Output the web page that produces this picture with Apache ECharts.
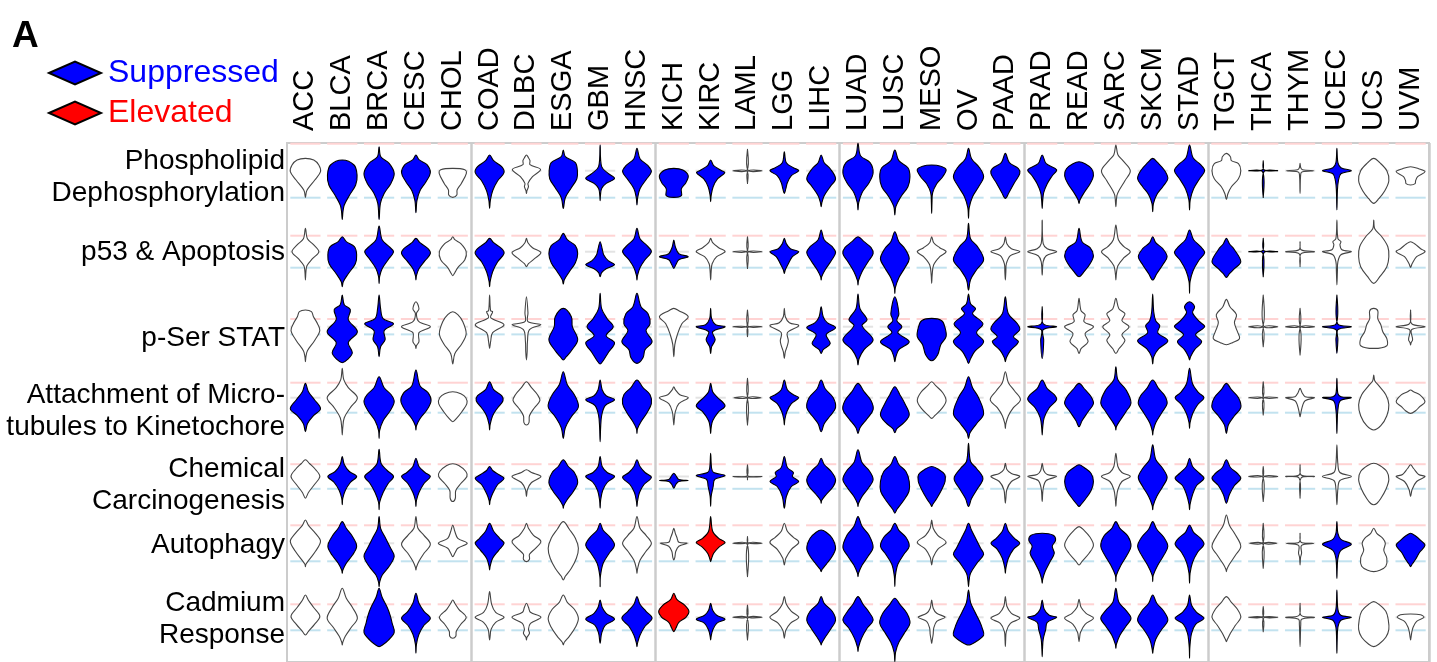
<!DOCTYPE html>
<html>
<head>
<meta charset="utf-8">
<script src="https://cdn.jsdelivr.net/npm/echarts@6/dist/echarts.min.js"></script>
<style>
  html, body { margin: 0; padding: 0; background: #fff; }
  #chart { width: 1437px; height: 662px; }
</style>
</head>
<body>
<div id="chart"></div>
<script>
const cancers = ['ACC', 'BLCA', 'BRCA', 'CESC', 'CHOL', 'COAD', 'DLBC', 'ESGA', 'GBM', 'HNSC',
  'KICH', 'KIRC', 'LAML', 'LGG', 'LIHC', 'LUAD', 'LUSC', 'MESO', 'OV', 'PAAD',
  'PRAD', 'READ', 'SARC', 'SKCM', 'STAD', 'TGCT', 'THCA', 'THYM', 'UCEC', 'UCS', 'UVM']
const groupSizes = [5, 5, 5, 5, 5, 6]

const pathways = [
  'Phospholipid\nDephosphorylation',
  'p53 & Apoptosis',
  'p-Ser STAT',
  'Attachment of Micro-\ntubules to Kinetochore',
  'Chemical\nCarcinogenesis',
  'Autophagy',
  'Cadmium\nResponse'
]
// significance threshold of each pathway score (dashed pink / blue lines at +/- value)
const thresholds = [2.7, 1.6, 0.77, 1.5, 1.23, 1.8, 1.3]
// b = suppressed, r = elevated, w = not significant
const calls = [
  'wbbbwbwbbbbbwbbbbbbbbbwbbwbwbww',
  'wbbbwbwbbbbwwbbbbwbwwbwbbbbwwww',
  'wbbwwwwbbbwbwwbbbbbbbwwbbwwwbww',
  'bwbbwbwbbbwbwbbbbwbwbbbbbbwwbww',
  'wbbbwbwbbbbbwbbbbbbwwbwbbbwwwww',
  'wbbwwbwwbwwrwwbbbwbbbwbbbwwwbwb',
  'wwbbwwwwbbrbwwbbbwbwbwbbbwwwbww'
]

// each violin: [top, bottom, y1, density1, y2, density2, ...] (score units, top to bottom)
const phospholipid = [
  [1.23, -2.67, 1.07, 0.83, 0.57, 1.33, -0.1, 1.5, -0.93, 0.93, -1.77, 0.27, -2.1, 0.1],
  [1.07, -4.87, 0.57, 1.17, -0.43, 1.47, -1.43, 1.33, -2.43, 0.73, -3.43, 0.2, -4.1, 0.07],
  [2.4, -4.87, 1.4, 0.17, 0.73, 1.0, -0.27, 1.5, -1.27, 1.17, -2.27, 0.5, -3.27, 0.13],
  [1.57, -4.2, 1.1, 0.3, 0.6, 1.1, -0.2, 1.43, -1.1, 1.0, -2.0, 0.4, -3.0, 0.1],
  [0.23, -2.67, 0.1, 1.2, -0.27, 1.35, -1.27, 0.85, -1.93, 0.43, -2.43, 0.4],
  [1.57, -3.77, 1.0, 0.4, 0.4, 1.2, -0.2, 1.43, -1.0, 0.8, -2.0, 0.3, -3.0, 0.07],
  [1.57, -2.27, 1.3, 0.2, 1.0, 0.35, 0.6, 0.35, 0.13, 1.4, -0.6, 0.6, -1.27, 0.15, -1.6, 0.2, -2.0, 0.05],
  [2.07, -3.77, 1.4, 0.2, 0.8, 1.2, 0, 1.4, -0.8, 1.35, -1.7, 0.8, -2.7, 0.2],
  [2.57, -3.0, 0.4, 0.15, -0.27, 0.8, -0.77, 1.43, -1.27, 0.6, -1.77, 0.15, -2.5, 0.03],
  [2.23, -3.43, 1.2, 0.3, 0.5, 1.1, -0.1, 1.43, -0.9, 0.9, -1.8, 0.3, -2.7, 0.07],
  [0.23, -2.67, 0.07, 0.9, -0.5, 1.43, -1.2, 1.2, -1.8, 0.75, -2.5, 0.75],
  [1.07, -3.1, 0.5, 0.3, 0, 1.1, -0.2, 1.4, -0.8, 0.7, -1.6, 0.25, -2.5, 0.05],
  [2.13, -1.27, 0.05, 0.05, 0, 1.43, -0.05, 0.05],
  [1.9, -2.27, 0.8, 0.2, 0.3, 0.9, 0, 1.43, -0.5, 0.7, -1.2, 0.3, -1.8, 0.15],
  [1.57, -3.6, 0.8, 0.3, 0.2, 0.9, -0.8, 1.43, -1.6, 0.9, -2.5, 0.3, -3.2, 0.07],
  [2.73, -3.93, 1.5, 0.25, 0.8, 1.2, -0.2, 1.5, -1.2, 1.1, -2.2, 0.4, -3.2, 0.07],
  [2.07, -4.43, 1.0, 0.4, 0.3, 1.3, -0.6, 1.5, -1.6, 1.3, -2.6, 0.6, -3.6, 0.1],
  [0.57, -4.27, 0.45, 0.9, 0.1, 1.43, -0.6, 1.1, -1.3, 0.5, -2.2, 0.1, -3.2, 0.03],
  [2.23, -4.77, 1.2, 0.3, 0.3, 1.1, -0.6, 1.5, -1.6, 1.0, -2.6, 0.4, -3.7, 0.07],
  [1.73, -2.77, 0.8, 0.4, 0.2, 1.3, -0.3, 1.43, -1.2, 0.9, -2.2, 0.35],
  [1.57, -3.77, 0.7, 0.4, 0.1, 1.43, -0.5, 1.0, -1.3, 0.5, -2.2, 0.15, -3.0, 0.05],
  [0.9, -3.27, 0.7, 0.6, 0.2, 1.25, -0.5, 1.43, -1.3, 1.1, -2.2, 0.5, -2.9, 0.1],
  [2.57, -3.6, 1.6, 0.2, 1.0, 0.7, 0, 1.43, -1.0, 0.9, -2.0, 0.3, -2.5, 0.1],
  [1.23, -4.1, 0.8, 0.5, 0, 1.2, -0.8, 1.5, -1.6, 1.0, -2.4, 0.4, -3.3, 0.07],
  [2.57, -3.93, 1.3, 0.35, 0.6, 1.1, 0, 1.5, -0.8, 1.0, -1.8, 0.4, -2.9, 0.07],
  [1.73, -2.87, 1.4, 0.4, 1.0, 0.5, 0.7, 1.2, 0, 1.43, -0.8, 1.2, -1.6, 0.5, -2.3, 0.15],
  [1.0, -2.67, 0.1, 0.07, 0, 1.43, -0.1, 0.07],
  [0.73, -2.27, 0.3, 0.07, 0.1, 0.25, 0, 1.35, -0.1, 0.25, -0.3, 0.07],
  [2.23, -3.93, 0.8, 0.1, 0.3, 0.4, 0, 1.43, -0.3, 0.4, -1.0, 0.15, -2.0, 0.05],
  [1.23, -3.27, 0.8, 0.6, 0, 1.3, -1.0, 1.5, -2.0, 1.1, -2.8, 0.5],
  [0.4, -1.43, 0.2, 0.8, -0.1, 1.43, -0.6, 0.7, -1.0, 0.5, -1.3, 0.45]
]

const p53Apoptosis = [
  [2.33, -2.83, 1.3, 0.2, 0.7, 0.8, 0, 1.33, -0.7, 0.7, -1.4, 0.15, -2.0, 0.05],
  [1.5, -3.5, 1.0, 0.4, 0.5, 1.2, -0.3, 1.43, -1.2, 1.3, -2.2, 0.6, -3.0, 0.1],
  [2.57, -3.17, 1.2, 0.3, 0.5, 1.0, 0, 1.43, -0.8, 0.9, -1.7, 0.3, -2.5, 0.05],
  [1.33, -2.83, 0.9, 0.4, 0.3, 1.2, -0.2, 1.43, -0.9, 0.9, -1.7, 0.3, -2.4, 0.05],
  [1.5, -2.4, 1.2, 0.2, 0.8, 0.8, 0, 1.33, -0.8, 1.2, -1.6, 0.5, -2.1, 0.2],
  [1.33, -3.5, 0.9, 0.4, 0.3, 1.2, -0.2, 1.43, -1.0, 0.8, -2.0, 0.3, -3.0, 0.05],
  [1.33, -1.5, 0.9, 0.15, 0.4, 0.6, -0.1, 1.43, -0.7, 0.8, -1.2, 0.2],
  [1.83, -3.23, 1.2, 0.4, 0.6, 1.2, -0.2, 1.43, -1.1, 1.2, -2.0, 0.6, -2.8, 0.1],
  [1.0, -2.5, 0.3, 0.2, -0.3, 0.35, -0.9, 0.8, -1.3, 1.43, -1.7, 0.6, -2.1, 0.15],
  [2.33, -2.83, 1.3, 0.3, 0.6, 1.0, 0, 1.43, -0.8, 0.8, -1.6, 0.3, -2.4, 0.05],
  [1.17, -1.67, 0.5, 0.15, -0.2, 0.5, -0.5, 1.43, -0.8, 0.5, -1.3, 0.2],
  [1.33, -2.83, 0.9, 0.2, 0.4, 0.8, 0, 1.43, -0.5, 0.6, -1.2, 0.15, -2.0, 0.05],
  [1.5, -1.67, 0.05, 0.05, 0, 1.43, -0.05, 0.05],
  [1.33, -2.17, 0.8, 0.2, 0.3, 0.6, 0, 1.43, -0.5, 0.8, -1.2, 0.4, -1.8, 0.1],
  [2.17, -2.83, 1.2, 0.3, 0.5, 1.1, -0.1, 1.43, -0.9, 1.0, -1.8, 0.4, -2.5, 0.05],
  [1.5, -3.33, 1.0, 0.6, 0.4, 1.3, -0.2, 1.5, -1.0, 1.0, -2.0, 0.4, -2.9, 0.05],
  [2.0, -4.17, 1.0, 0.4, 0.3, 1.0, -0.7, 1.43, -1.6, 1.0, -2.6, 0.4, -3.6, 0.05],
  [1.5, -3.17, 0.9, 0.2, 0.4, 0.8, 0, 1.43, -0.5, 0.8, -1.3, 0.2, -2.3, 0.05],
  [2.83, -3.83, 1.3, 0.2, 0.5, 0.9, -0.8, 1.5, -1.8, 0.8, -2.8, 0.2],
  [1.5, -2.83, 0.8, 0.15, 0.3, 0.6, 0, 1.43, -0.4, 0.5, -1.2, 0.1, -2.0, 0.05],
  [3.17, -2.33, 0.8, 0.1, 0.3, 0.5, 0, 1.43, -0.4, 0.4, -1.0, 0.1],
  [2.33, -2.5, 1.0, 0.3, 0.4, 1.1, -0.4, 1.43, -1.2, 1.1, -2.0, 0.5],
  [2.67, -2.83, 1.2, 0.25, 0.5, 0.8, 0, 1.43, -0.6, 0.8, -1.4, 0.2, -2.2, 0.05],
  [1.5, -2.83, 0.9, 0.3, 0.3, 1.0, -0.5, 1.43, -1.3, 1.0, -2.2, 0.4],
  [2.17, -4.17, 1.2, 0.4, 0.5, 1.1, -0.1, 1.5, -0.9, 0.9, -1.9, 0.35, -3.0, 0.05],
  [1.33, -2.57, 0.8, 0.3, 0.2, 0.8, -1.0, 1.43, -1.7, 0.8, -2.2, 0.3],
  [1.33, -2.5, 0.1, 0.07, 0, 1.43, -0.1, 0.07],
  [1.0, -1.5, 0.2, 0.1, 0, 1.43, -0.2, 0.1],
  [3.17, -3.33, 1.3, 0.1, 1.0, 0.4, 0.7, 0.3, 0.2, 0.5, 0, 1.43, -0.3, 0.4, -1.0, 0.1, -2.0, 0.05],
  [3.17, -3.17, 2.3, 0.1, 1.5, 0.8, 0.5, 1.4, -0.5, 1.5, -1.5, 1.3, -2.5, 0.6],
  [1.0, -1.57, 0.8, 0.4, 0.3, 1.0, 0, 1.43, -0.5, 0.6, -1.2, 0.15]
]

const pSerStat = [
  [1.67, -3.5, 1.5, 0.6, 1.0, 0.8, 0.3, 1.2, -0.4, 1.43, -1.4, 0.9, -2.4, 0.2, -3.0, 0.05],
  [3.17, -3.6, 2.2, 0.2, 1.7, 0.8, 0.7, 0.6, -0.5, 1.5, -1.6, 0.6, -2.6, 1.0, -3.3, 0.5],
  [3.17, -3.0, 1.8, 0.15, 0.8, 0.4, 0.3, 1.43, -0.4, 0.5, -1.3, 0.6, -2.0, 0.15],
  [2.5, -2.17, 1.8, 0.3, 1.3, 0.05, 0.5, 0.3, 0, 1.43, -0.6, 0.3, -1.5, 0.3, -1.9, 0.05],
  [1.5, -3.73, 1.2, 0.5, 0.5, 1.0, -0.7, 1.33, -1.7, 0.9, -2.7, 0.2],
  [3.17, -2.17, 1.6, 0.1, 1.5, 0.3, 0.9, 0.1, 0.2, 1.43, -0.6, 0.3, -1.5, 0.1],
  [3.0, -3.33, 1.4, 0.15, 0.5, 0.15, 0.2, 1.43, -0.3, 0.3, -1.5, 0.1, -2.5, 0.07],
  [1.83, -3.33, 1.0, 0.8, 0, 0.9, -1.3, 1.43, -2.4, 0.8, -3.0, 0.3],
  [3.33, -3.73, 1.8, 0.15, 0.8, 0.7, 0, 1.3, -0.9, 0.6, -1.6, 1.43, -2.6, 0.8, -3.4, 0.3],
  [3.33, -3.67, 2.0, 0.4, 1.3, 1.1, 0.3, 1.3, -0.4, 0.9, -1.5, 1.5, -2.3, 0.8, -3.1, 0.6],
  [1.83, -3.0, 1.6, 0.5, 1.0, 1.43, 0.3, 0.8, -0.8, 0.35, -1.8, 0.1],
  [1.83, -2.67, 0.8, 0.1, 0.2, 0.5, 0, 1.43, -0.5, 0.2, -1.3, 0.45, -2.0, 0.1],
  [1.67, -1.0, 0.05, 0.05, 0, 1.43, -0.05, 0.05],
  [1.83, -3.17, 1.0, 0.1, 0.4, 0.5, 0.1, 1.43, -0.6, 0.3, -1.4, 0.4, -1.9, 0.3, -2.5, 0.1],
  [2.0, -2.67, 1.0, 0.2, 0.4, 0.6, -0.1, 1.43, -0.8, 0.5, -1.7, 0.9, -2.3, 0.2],
  [3.27, -3.83, 1.8, 0.2, 0.7, 0.9, 0.1, 0.4, -1.3, 1.5, -2.3, 0.6, -3.2, 0.1],
  [3.0, -3.5, 1.3, 0.4, 0.6, 0.2, 0, 0.7, -0.6, 0.3, -1.5, 1.43, -2.3, 0.4, -3.0, 0.1],
  [0.83, -3.4, 0.6, 1.0, 0, 1.3, -1.0, 1.43, -1.8, 0.9, -2.8, 0.6],
  [3.27, -3.67, 2.3, 0.2, 1.8, 0.7, 1.3, 0.4, 0.3, 1.43, -0.6, 0.8, -1.5, 1.5, -2.5, 0.6, -3.2, 0.2],
  [3.0, -3.5, 1.3, 0.3, 0.3, 1.2, -0.3, 1.43, -1.0, 0.8, -1.5, 1.3, -2.4, 0.5, -3.1, 0.1],
  [2.0, -3.17, 0.3, 0.1, 0, 1.43, -0.3, 0.1, -1.4, 0.15],
  [2.83, -2.67, 1.6, 0.2, 1.2, 0.6, 0.5, 0.5, 0, 1.43, -0.7, 0.6, -1.5, 0.9, -2.2, 0.2],
  [2.83, -2.67, 1.8, 0.3, 1.3, 0.9, 0.6, 0.6, 0, 1.3, -0.8, 0.6, -1.4, 0.9, -2.2, 0.3],
  [3.27, -3.73, 1.5, 0.1, 0.6, 0.3, 0.1, 0.7, -0.6, 0.5, -1.4, 1.5, -2.2, 0.6, -3.0, 0.1],
  [2.5, -3.33, 2.0, 0.5, 1.4, 0.3, 0.5, 1.0, 0, 1.5, -0.8, 0.6, -1.5, 1.2, -2.3, 0.5, -3.0, 0.1],
  [2.73, -1.8, 2.0, 0.35, 1.2, 1.0, 0.4, 0.8, -0.5, 1.1, -1.2, 1.3, -1.6, 0.6],
  [3.17, -2.0, 0.05, 0.05, 0, 1.43, -0.05, 0.05],
  [1.83, -2.83, 0.05, 0.05, 0, 1.43, -0.05, 0.05],
  [3.17, -2.67, 0.3, 0.07, 0, 1.43, -0.3, 0.1, -1.3, 0.1],
  [1.83, -2.17, 1.6, 0.4, 0.8, 0.4, 0.2, 0.7, -0.5, 0.9, -1.2, 1.3, -1.9, 1.3],
  [1.67, -1.83, 0.3, 0.1, 0, 1.43, -0.3, 0.1, -1.3, 0.2, -1.6, 0.05]
]

const kinetochore = [
  [1.43, -3.4, 0.6, 0.3, -0.2, 0.9, -1.1, 1.5, -1.8, 0.8, -2.6, 0.2],
  [2.93, -3.73, 1.8, 0.15, 1.0, 0.6, 0, 1.5, -1.0, 0.8, -2.0, 0.2, -3.0, 0.05],
  [2.1, -4.07, 1.0, 0.5, 0.3, 1.2, -0.4, 1.5, -1.3, 1.1, -2.3, 0.4, -3.3, 0.05],
  [2.77, -3.23, 1.2, 0.4, 0.5, 1.2, -0.3, 1.5, -1.2, 1.1, -2.1, 0.4, -2.8, 0.05],
  [0.6, -2.4, 0.4, 0.8, 0, 1.3, -0.6, 1.4, -1.4, 0.9, -2.1, 0.35],
  [1.6, -3.23, 0.8, 0.4, 0.2, 1.2, -0.3, 1.33, -1.0, 0.8, -1.8, 0.3, -2.7, 0.05],
  [1.6, -2.73, 1.0, 0.5, 0.3, 1.1, -0.3, 1.33, -1.0, 0.8, -1.8, 0.3, -2.5, 0.25],
  [2.6, -4.07, 1.3, 0.4, 0.3, 1.1, -0.9, 1.5, -1.9, 0.8, -3.0, 0.2],
  [1.77, -4.4, 0.8, 0.2, 0.2, 0.6, -0.2, 1.43, -0.8, 0.5, -1.8, 0.15, -3.0, 0.05],
  [1.77, -3.57, 1.0, 0.6, 0.3, 1.3, -0.6, 1.43, -1.5, 1.0, -2.4, 0.4, -3.1, 0.05],
  [1.1, -2.73, 0.8, 0.15, 0.3, 0.6, 0, 1.43, -0.6, 0.5, -1.4, 0.15, -2.2, 0.05],
  [1.43, -3.57, 0.6, 0.2, 0.1, 0.6, -0.8, 1.43, -1.4, 0.8, -2.3, 0.2, -3.0, 0.05],
  [1.93, -2.73, 0.05, 0.05, 0, 1.33, -0.05, 0.05],
  [1.77, -2.73, 0.8, 0.3, 0.3, 0.9, 0, 1.43, -0.6, 0.7, -1.4, 0.25, -2.2, 0.05],
  [1.77, -3.4, 0.9, 0.4, 0, 1.2, -1.0, 1.43, -1.8, 0.9, -2.6, 0.3],
  [1.43, -3.57, 0.6, 0.6, -0.3, 1.3, -1.2, 1.5, -2.1, 0.9, -3.0, 0.2],
  [1.1, -3.5, 0.3, 0.5, -0.6, 1.0, -1.7, 1.43, -2.5, 0.9, -3.1, 0.2],
  [1.6, -2.07, 1.2, 0.4, 0.5, 1.1, -0.3, 1.43, -1.1, 1.0, -1.8, 0.3],
  [2.1, -4.07, 1.0, 0.4, 0, 1.0, -1.6, 1.5, -2.6, 0.8, -3.5, 0.15],
  [2.6, -3.07, 1.5, 0.3, 0.7, 0.9, -0.2, 1.5, -1.0, 0.8, -1.8, 0.3, -2.6, 0.05],
  [1.77, -3.73, 0.9, 0.5, 0.3, 1.2, -0.2, 1.43, -1.0, 0.7, -2.0, 0.2, -3.0, 0.05],
  [1.43, -2.9, 0.8, 0.6, 0.1, 1.2, -0.6, 1.43, -1.4, 0.9, -2.3, 0.3],
  [3.1, -3.23, 1.8, 0.2, 0.8, 1.0, -0.5, 1.5, -1.4, 1.0, -2.3, 0.4, -2.9, 0.05],
  [1.77, -3.73, 0.9, 0.6, 0.2, 1.2, -0.6, 1.43, -1.5, 0.9, -2.5, 0.3, -3.3, 0.05],
  [2.93, -3.07, 1.4, 0.3, 0.5, 0.9, 0, 1.43, -0.7, 0.8, -1.6, 0.3, -2.5, 0.05],
  [1.43, -3.57, 0.8, 0.5, 0, 1.2, -1.0, 1.43, -1.8, 0.8, -2.7, 0.2],
  [1.6, -1.73, 0.05, 0.05, 0, 1.43, -0.05, 0.05],
  [0.93, -1.9, 0.5, 0.2, 0.1, 0.5, 0, 1.43, -0.3, 0.5, -0.8, 0.25, -1.4, 0.1],
  [1.93, -3.57, 0.4, 0.1, 0.1, 0.4, 0, 1.43, -0.3, 0.35, -1.2, 0.1, -2.5, 0.03],
  [2.27, -3.23, 1.7, 0.1, 1.2, 0.5, 0.3, 1.2, -0.7, 1.5, -1.8, 1.3, -2.8, 0.7],
  [0.77, -1.57, 0.6, 0.3, 0.3, 0.9, -0.4, 1.43, -0.9, 0.9, -1.3, 0.5]
]

const carcinogenesis = [
  [1.67, -2.17, 1.3, 0.4, 0.7, 1.0, 0, 1.43, -0.8, 0.9, -1.6, 0.3],
  [2.0, -2.83, 1.2, 0.2, 0.5, 0.7, 0, 1.43, -0.6, 0.8, -1.4, 0.3, -2.2, 0.05],
  [2.73, -3.33, 1.3, 0.2, 0.6, 0.8, 0, 1.43, -0.7, 0.9, -1.6, 0.4, -2.6, 0.05],
  [1.83, -3.0, 1.0, 0.3, 0.4, 0.9, 0, 1.43, -0.7, 0.8, -1.6, 0.3, -2.4, 0.05],
  [1.27, -2.5, 1.1, 0.6, 0.5, 1.3, 0, 1.4, -0.7, 0.8, -1.4, 0.3, -2.2, 0.25],
  [1.0, -2.83, 0.6, 0.3, 0.2, 0.9, -0.2, 1.43, -0.8, 0.8, -1.7, 0.3, -2.4, 0.05],
  [0.67, -2.0, 0.4, 0.5, 0, 1.43, -0.6, 0.5, -1.3, 0.1],
  [1.67, -3.17, 1.0, 0.5, 0.4, 1.1, -0.6, 1.43, -1.5, 1.0, -2.3, 0.4, -2.9, 0.05],
  [2.0, -3.17, 1.0, 0.2, 0.4, 0.7, 0, 1.43, -0.6, 0.7, -1.4, 0.25, -2.4, 0.05],
  [1.67, -3.0, 1.0, 0.3, 0.4, 0.8, -0.1, 1.43, -0.8, 0.7, -1.6, 0.25, -2.5, 0.05],
  [0.33, -1.17, 0.1, 0.2, -0.3, 0.5, -0.4, 1.43, -0.5, 0.5, -0.8, 0.2],
  [2.33, -3.0, 0.8, 0.1, 0.4, 0.3, 0.1, 1.43, -0.3, 0.4, -1.0, 0.25, -2.0, 0.05],
  [1.17, -0.33, 0.05, 0.05, 0, 1.43, -0.05, 0.05],
  [2.0, -3.17, 0.9, 0.3, 0.4, 0.9, 0, 0.8, -0.5, 1.43, -1.0, 0.7, -2.0, 0.2],
  [1.83, -2.67, 1.2, 0.3, 0.5, 1.0, -0.3, 1.43, -1.0, 1.2, -1.8, 0.5, -2.4, 0.05],
  [2.67, -3.0, 1.4, 0.4, 0.6, 1.1, -0.3, 1.5, -1.2, 1.0, -2.0, 0.4, -2.7, 0.05],
  [2.0, -3.67, 1.2, 0.4, 0.5, 1.1, -0.5, 1.43, -1.5, 1.4, -2.5, 0.8, -3.3, 0.2],
  [1.0, -3.0, 0.7, 0.7, 0.2, 1.3, -0.5, 1.33, -1.3, 1.0, -2.2, 0.5, -2.8, 0.1],
  [3.33, -3.0, 1.5, 0.2, 0.8, 0.8, -0.2, 1.43, -1.2, 0.9, -2.2, 0.3],
  [1.33, -2.67, 0.7, 0.15, 0.3, 0.6, 0, 1.43, -0.5, 0.6, -1.3, 0.15, -2.2, 0.05],
  [1.33, -2.5, 0.6, 0.15, 0.2, 0.5, 0, 1.43, -0.4, 0.4, -1.2, 0.1],
  [1.17, -3.0, 0.9, 0.5, 0.3, 1.2, -0.5, 1.43, -1.4, 1.2, -2.3, 0.6, -2.8, 0.2],
  [2.33, -3.0, 1.0, 0.2, 0.4, 0.6, 0, 1.43, -0.5, 0.6, -1.3, 0.2, -2.3, 0.05],
  [3.17, -3.33, 1.7, 0.3, 0.8, 1.0, -0.1, 1.43, -1.0, 1.0, -2.0, 0.4, -2.9, 0.05],
  [1.83, -3.33, 1.0, 0.3, 0.3, 1.0, -0.2, 1.43, -0.9, 0.7, -1.8, 0.3, -2.8, 0.05],
  [1.67, -2.67, 0.9, 0.4, 0.3, 1.1, -0.2, 1.43, -0.9, 0.8, -1.8, 0.3],
  [1.0, -2.5, 0.05, 0.05, 0, 1.43, -0.05, 0.05],
  [1.17, -2.17, 0.15, 0.1, 0, 1.43, -0.15, 0.1],
  [3.17, -2.83, 1.2, 0.1, 0.4, 0.3, 0, 1.43, -0.4, 0.3, -1.2, 0.1],
  [1.33, -2.83, 1.1, 0.6, 0.5, 1.3, -0.3, 1.5, -1.3, 1.2, -2.2, 0.7, -2.7, 0.3],
  [1.17, -2.0, 0.8, 0.3, 0.2, 0.8, 0, 1.43, -0.5, 0.6, -1.3, 0.15]
]

const autophagy = [
  [2.33, -2.33, 1.8, 0.3, 1.0, 1.0, 0.2, 1.5, -0.8, 1.0, -1.6, 0.4, -2.1, 0.05],
  [2.17, -3.0, 1.5, 0.4, 0.7, 1.0, -0.3, 1.43, -1.2, 1.0, -2.0, 0.4, -2.7, 0.05],
  [2.67, -4.33, 1.5, 0.15, 0.6, 0.6, -0.4, 1.1, -1.3, 1.5, -2.3, 1.0, -3.2, 0.3, -3.9, 0.05],
  [2.67, -2.67, 1.5, 0.2, 0.8, 0.8, -0.1, 1.43, -1.0, 0.8, -1.8, 0.3, -2.4, 0.05],
  [1.83, -1.33, 1.2, 0.2, 0.5, 0.5, 0, 1.43, -0.5, 0.5, -1.0, 0.2],
  [2.0, -2.67, 1.2, 0.4, 0.5, 1.0, 0, 1.43, -0.7, 0.9, -1.5, 0.3, -2.3, 0.05],
  [2.0, -1.83, 1.5, 0.2, 0.8, 0.7, 0.2, 1.43, -0.5, 0.9, -1.1, 0.3, -1.6, 0.3],
  [2.17, -3.67, 1.4, 0.6, 0.5, 1.2, -0.5, 1.5, -1.5, 1.3, -2.5, 0.8, -3.3, 0.2],
  [2.0, -4.33, 1.3, 0.3, 0.6, 1.0, -0.2, 1.43, -1.0, 0.9, -2.0, 0.3, -3.3, 0.03],
  [2.67, -3.0, 1.5, 0.3, 0.8, 0.9, 0, 1.43, -0.8, 0.9, -1.7, 0.3, -2.6, 0.05],
  [1.5, -1.67, 1.0, 0.15, 0.6, 0.3, 0.1, 0.5, 0, 1.33, -0.3, 0.5, -0.8, 0.2, -1.4, 0.1],
  [2.67, -1.83, 1.2, 0.2, 0.5, 0.8, 0.1, 1.43, -0.4, 0.8, -1.0, 0.3, -1.5, 0.1],
  [0.67, -3.33, 0.05, 0.05, 0, 1.43, -0.05, 0.05],
  [2.0, -2.17, 1.2, 0.3, 0.6, 0.9, 0.1, 1.43, -0.6, 0.7, -1.5, 0.15],
  [1.33, -2.83, 1.1, 0.5, 0.5, 1.1, -0.5, 1.43, -1.3, 1.1, -2.1, 0.5, -2.6, 0.1],
  [2.67, -3.33, 1.7, 0.4, 0.8, 1.1, -0.4, 1.5, -1.3, 1.0, -2.2, 0.4, -3.0, 0.05],
  [2.0, -4.33, 1.3, 0.4, 0.6, 1.1, -0.3, 1.43, -1.1, 0.9, -2.1, 0.3, -3.3, 0.05],
  [2.33, -2.17, 1.5, 0.15, 0.8, 0.6, 0.1, 1.43, -0.6, 0.6, -1.4, 0.15, -1.9, 0.05],
  [2.0, -4.33, 1.3, 0.3, 0.5, 0.7, -0.5, 1.2, -1.1, 1.5, -1.9, 0.9, -3.0, 0.2, -3.8, 0.05],
  [2.0, -3.0, 1.2, 0.3, 0.5, 0.9, 0, 1.43, -0.6, 0.8, -1.5, 0.3, -2.5, 0.05],
  [1.0, -4.0, 0.8, 1.1, 0.3, 1.33, -0.3, 1.0, -1.0, 1.2, -1.8, 0.8, -2.8, 0.3, -3.6, 0.05],
  [1.67, -2.17, 1.3, 0.5, 0.6, 1.1, -0.2, 1.43, -1.0, 1.0, -1.8, 0.3],
  [2.17, -3.83, 1.5, 0.4, 0.7, 1.2, -0.3, 1.5, -1.2, 1.1, -2.2, 0.5, -3.2, 0.05],
  [2.17, -3.83, 1.4, 0.4, 0.6, 1.1, -0.3, 1.5, -1.2, 1.1, -2.2, 0.5, -3.2, 0.05],
  [1.83, -4.0, 1.1, 0.4, 0.5, 1.1, -0.1, 1.43, -0.9, 0.8, -1.9, 0.3, -3.0, 0.05],
  [2.83, -2.83, 1.8, 0.3, 1.0, 0.8, -0.3, 1.43, -1.2, 0.9, -2.1, 0.3, -2.6, 0.05],
  [2.0, -2.5, 0.05, 0.05, 0, 1.33, -0.05, 0.05],
  [1.0, -2.17, 0.1, 0.1, 0, 1.33, -0.2, 0.15, -1.0, 0.15, -1.4, 0.05],
  [2.17, -3.5, 1.0, 0.1, 0.4, 0.4, -0.1, 1.43, -0.7, 0.4, -1.5, 0.1, -2.5, 0.03],
  [1.5, -2.83, 1.0, 0.3, 0.5, 0.9, 0, 1.15, -0.7, 1.0, -1.5, 1.3, -2.3, 1.2, -2.7, 0.6],
  [1.0, -2.33, 0.8, 0.4, 0.3, 1.0, -0.2, 1.43, -0.9, 0.9, -1.6, 0.5, -2.1, 0.15]
]

const cadmium = [
  [2.23, -1.77, 1.7, 0.3, 1.0, 0.8, 0.1, 1.43, -0.7, 0.9, -1.4, 0.3],
  [2.9, -2.77, 1.9, 0.4, 1.0, 1.0, -0.1, 1.5, -1.0, 0.9, -1.9, 0.3, -2.5, 0.05],
  [2.9, -2.93, 2.0, 0.3, 1.0, 0.8, 0.2, 1.1, -0.6, 1.3, -1.5, 1.5, -2.3, 0.9, -2.8, 0.3],
  [2.4, -3.6, 1.4, 0.3, 0.6, 0.8, -0.1, 1.43, -0.8, 0.8, -1.7, 0.3, -2.7, 0.05],
  [1.73, -2.1, 1.4, 0.2, 0.8, 0.6, 0, 1.33, -0.7, 0.8, -1.4, 0.35, -1.9, 0.3],
  [2.57, -2.27, 1.3, 0.2, 0.5, 0.6, 0, 1.43, -0.5, 0.6, -1.2, 0.15, -1.9, 0.05],
  [1.4, -2.27, 1.0, 0.2, 0.5, 0.4, 0, 1.43, -0.6, 0.4, -1.2, 0.2, -1.6, 0.3, -2.0, 0.05],
  [2.23, -2.77, 1.5, 0.4, 0.8, 1.1, -0.1, 1.5, -1.0, 1.2, -1.9, 0.6, -2.5, 0.1],
  [1.73, -2.6, 1.0, 0.2, 0.4, 0.6, -0.2, 1.43, -0.8, 0.5, -1.6, 0.15, -2.3, 0.05],
  [2.07, -2.93, 1.3, 0.3, 0.6, 0.9, -0.1, 1.5, -0.9, 0.8, -1.8, 0.3, -2.6, 0.05],
  [2.4, -1.43, 1.8, 0.3, 1.2, 1.1, 0.6, 1.5, 0, 1.2, -0.5, 0.5, -1.1, 0.2],
  [1.4, -2.27, 0.7, 0.2, 0.2, 0.6, -0.2, 1.43, -0.6, 0.6, -1.3, 0.2, -1.9, 0.05],
  [1.23, -2.27, 0.05, 0.05, 0, 1.43, -0.05, 0.05],
  [2.07, -2.1, 1.3, 0.2, 0.6, 0.7, 0, 1.43, -0.6, 0.6, -1.3, 0.15, -1.8, 0.05],
  [2.07, -2.77, 1.4, 0.3, 0.6, 1.1, -0.3, 1.43, -1.1, 1.0, -2.0, 0.4, -2.6, 0.05],
  [2.07, -3.43, 1.3, 0.5, 0.5, 1.1, -0.3, 1.5, -1.1, 0.9, -2.1, 0.35, -3.0, 0.05],
  [1.9, -4.43, 1.3, 0.5, 0.4, 1.2, -0.6, 1.5, -1.5, 1.0, -2.5, 0.4, -3.5, 0.07],
  [1.73, -2.6, 0.9, 0.15, 0.4, 0.5, 0, 1.33, -0.4, 0.5, -1.1, 0.2, -1.7, 0.15, -2.3, 0.05],
  [2.73, -2.77, 1.5, 0.2, 0.6, 0.6, -0.4, 1.1, -1.2, 1.4, -1.8, 1.5, -2.4, 0.8],
  [2.07, -2.93, 1.1, 0.15, 0.4, 0.6, -0.1, 1.43, -0.6, 0.5, -1.4, 0.1, -2.3, 0.03],
  [1.73, -3.93, 0.8, 0.2, 0.2, 0.7, 0, 1.43, -0.5, 0.5, -1.2, 0.35, -2.2, 0.1, -3.2, 0.03],
  [1.8, -2.43, 1.0, 0.2, 0.4, 0.7, -0.1, 1.43, -0.7, 0.6, -1.5, 0.15, -2.1, 0.05],
  [2.9, -3.1, 1.5, 0.3, 0.7, 1.0, -0.1, 1.5, -0.9, 1.0, -1.8, 0.4, -2.7, 0.05],
  [2.23, -3.6, 1.4, 0.4, 0.6, 1.1, -0.3, 1.5, -1.2, 0.9, -2.2, 0.3, -3.2, 0.05],
  [2.23, -4.1, 1.2, 0.2, 0.5, 0.7, -0.1, 1.43, -0.7, 0.6, -1.6, 0.2, -3.0, 0.03],
  [2.07, -2.43, 1.5, 0.5, 0.8, 1.1, 0, 1.43, -0.8, 0.9, -1.6, 0.4, -2.2, 0.1],
  [1.07, -1.43, 0.05, 0.05, 0, 1.43, -0.05, 0.05],
  [1.4, -2.93, 0.2, 0.1, 0, 1.43, -0.2, 0.15, -0.7, 0.07],
  [2.73, -3.6, 0.8, 0.1, 0.2, 0.4, 0, 1.43, -0.3, 0.4, -1.0, 0.1, -2.2, 0.03],
  [1.57, -2.93, 1.3, 0.5, 0.6, 1.2, -0.3, 1.45, -1.2, 1.5, -2.0, 1.2, -2.7, 0.5],
  [0.33, -2.27, 0.25, 1.0, 0, 1.33, -0.4, 0.6, -1.0, 0.25, -1.6, 0.1]
]

const violinRows = [phospholipid, p53Apoptosis, pSerStat, kinetochore, carcinogenesis, autophagy, cadmium]

// layout (pixels)
const FONT = '"Liberation Sans", Arial, Helvetica, sans-serif'
const plotLeft = 287
const plotWidth = 1142
const rowZero = [170.7, 251.7, 326.7, 397.7, 476.5, 543.3, 617.3]
const rowLabelY = [177, 252, 338, 411, 485, 545, 619]

const fills = { b: '#0000ff', r: '#ff0000', w: '#ffffff' }
const names = { b: 'Suppressed', r: 'Elevated', w: 'Not significant' }

const groupStarts = []
let acc = 0
groupSizes.slice(0, -1).forEach(n => {
  acc += n
  groupStarts.push(acc)
})

function renderViolin(rowIdx, code) {
  return function(params, api) {
    const col = api.value(0)
    const v = violinRows[rowIdx][col]
    const half = api.size([1, 0])[0] * 0.41 / 1.5
    const cx = api.coord([col, 0])[0]
    const right = []
    const left = []
    for (let k = 2; k < v.length; k += 2) {
      const py = api.coord([col, v[k]])[1]
      right.push([cx + v[k + 1] * half, py])
      left.unshift([cx - v[k + 1] * half, py])
    }
    const points = [[cx, api.coord([col, v[0]])[1]]]
      .concat(right, [[cx, api.coord([col, v[1]])[1]]], left)
    return {
      type: 'polygon',
      shape: { points: points, smooth: 0.35 },
      style: {
        fill: fills[code],
        stroke: code === 'w' ? '#444' : '#000',
        lineWidth: 1.1
      }
    }
  }
}

function renderGuides(rowIdx) {
  return function(params, api) {
    const col = api.value(0)
    const hw = api.size([1, 0])[0] * 0.41
    const cx = api.coord([col, 0])[0]
    const t = thresholds[rowIdx]
    const lines = [[t, '#ffd3d3'], [0, '#e3e3e3'], [-t, '#c2e2ef']].map(([y, c]) => {
      const py = api.coord([col, y])[1]
      return {
        type: 'line',
        shape: { x1: cx - hw, y1: py, x2: cx + hw, y2: py },
        style: { stroke: c, lineWidth: 2 }
      }
    })
    return { type: 'group', children: lines }
  }
}

const grids = [{
  left: plotLeft, width: plotWidth, top: 143, height: 540,
  show: true, borderColor: '#cccccc', borderWidth: 2
}]
const xAxes = [{
  type: 'category',
  gridIndex: 0,
  data: cancers,
  position: 'top',
  axisLine: { show: false },
  axisTick: { show: false },
  axisLabel: {
    rotate: 90,
    margin: 12,
    interval: 0,
    color: '#000',
    fontSize: 29,
    fontFamily: FONT
  },
  splitLine: {
    show: true,
    interval: index => groupStarts.includes(index),
    lineStyle: { color: '#cccccc', width: 2.5 }
  }
}]
const yAxes = [{ type: 'value', gridIndex: 0, show: false, min: 0, max: 1 }]
const series = []

rowZero.forEach((z, r) => {
  const gi = r + 1
  grids.push({ left: plotLeft, width: plotWidth, top: z - 40, height: 80 })
  xAxes.push({ type: 'category', gridIndex: gi, data: cancers, show: false })
  yAxes.push({ type: 'value', gridIndex: gi, min: -4, max: 4, show: false })

  series.push({
    type: 'custom',
    name: 'thresholds',
    xAxisIndex: gi,
    yAxisIndex: gi,
    silent: true,
    z: 1,
    data: cancers.map((c, i) => [i, 0]),
    renderItem: renderGuides(r)
  })

  ;['w', 'b', 'r'].forEach(code => {
    const idx = []
    calls[r].split('').forEach((c, i) => {
      if (c === code) idx.push([i, 0])
    })
    if (!idx.length) return
    series.push({
      type: 'custom',
      name: names[code],
      xAxisIndex: gi,
      yAxisIndex: gi,
      z: 3,
      itemStyle: { color: fills[code] },
      data: idx,
      renderItem: renderViolin(r, code)
    })
  })
})

const chart = echarts.init(document.getElementById('chart'))
chart.setOption({
  animation: false,
  backgroundColor: '#fff',
  title: {
    text: 'A',
    left: 12,
    top: 18,
    padding: 0,
    textStyle: { fontSize: 37, fontWeight: 'bold', color: '#000', fontFamily: FONT }
  },
  legend: {
    orient: 'vertical',
    left: 48,
    top: 57,
    padding: 0,
    itemWidth: 52,
    itemHeight: 23,
    itemGap: 8,
    icon: 'path://M0,11.5L26,0L52,11.5L26,23Z',
    itemStyle: { borderColor: '#000', borderWidth: 2 },
    textStyle: { fontSize: 32, fontFamily: FONT, padding: [0, 0, 0, 2] },
    data: [
      { name: 'Suppressed', textStyle: { color: '#0000ff' } },
      { name: 'Elevated', textStyle: { color: '#ff0000' } }
    ]
  },
  graphic: pathways.map((p, i) => ({
    type: 'text',
    x: 285,
    y: rowLabelY[i],
    style: {
      text: p,
      fill: '#000',
      font: '28px ' + FONT,
      textAlign: 'right',
      textVerticalAlign: 'middle',
      lineHeight: 32
    }
  })),
  grid: grids,
  xAxis: xAxes,
  yAxis: yAxes,
  series: series
})
</script>
</body>
</html>
